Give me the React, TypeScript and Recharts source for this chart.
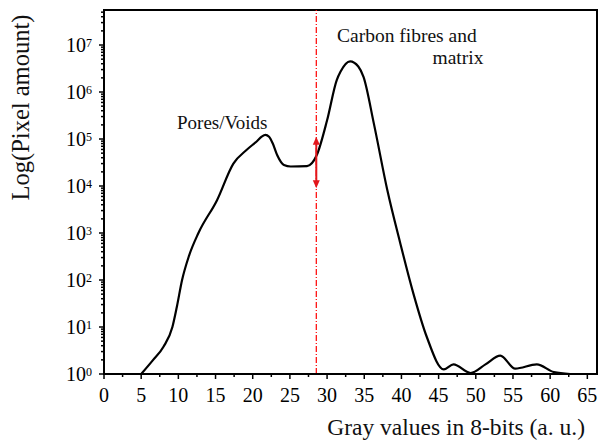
import { Line, LineChart, ReferenceArea, ReferenceLine, XAxis, YAxis } from "recharts";

// histogram (gray value -> pixel count)
const grayValues = [
  5, 6.5, 8, 9.2, 9.8, 10.5, 11.4, 12.7, 15.2, 17.4, 19.2, 20.6, 21.2, 21.7,
  22.2, 22.7, 23.3, 24.2, 25.1, 27.3, 28.6, 30.0, 31.3, 31.8, 33.1, 34.2, 34.9,
  36.3, 38.1, 39.85, 41.6, 43.4, 45.7, 47.0, 49.3, 51.3, 53.3, 55.3, 58.2,
  60.5, 62.7,
];
const pixelCounts = [
  1, 1.9, 3.8, 10, 27, 100, 316, 1000, 5000, 30000, 59000, 91000, 112000,
  123000, 112000, 80000, 45000, 28000, 26000, 26500, 45000, 250000, 1.8e6,
  2.7e6, 4.5e6, 3.5e6, 2.1e6, 2.1e5, 8200, 600, 52, 6.2, 1.25, 1.6, 1.05, 1.6,
  2.45, 1.3, 1.6, 1.1, 1.0,
];

const xMajorTicks = [0, 5, 10, 15, 20, 25, 30, 35, 40, 45, 50, 55, 60, 65];
const yExponents = [0, 1, 2, 3, 4, 5, 6, 7];

const thresholdGray = 28.55;
const arrowRange = [1.12e5, 9.0e3];

const X_MAX = 66.3;
const Y_MAX = 5.56e7;

const data = grayValues.map((g, i) => ({ gray: g, count: pixelCounts[i] }));
const xTicks = xMajorTicks.flatMap((t) => (t < 65 ? [t, t + 2.5] : [t]));
const yTicks = yExponents
  .flatMap((e) => [1, 2, 3, 4, 5, 6, 7, 8, 9].map((m) => m * Math.pow(10, e)))
  .filter((v) => v <= Y_MAX);

const serif = "Liberation Serif, Times New Roman, serif";

const XTick = (props: any) => {
  const { x, y, payload } = props;
  const major = payload.value % 5 === 0;
  return (
    <g>
      <line x1={x} x2={x} y1={y} y2={y + (major ? 5 : 3)} stroke="#000" strokeWidth={1.5} />
      {major && (
        <text x={x} y={y + 28} textAnchor="middle" fontSize={20} style={{ fontFamily: serif }} fill="#000">
          {payload.value}
        </text>
      )}
    </g>
  );
};

const YTick = (props: any) => {
  const { x, y, payload } = props;
  const exp = Math.log10(payload.value);
  const major = Math.abs(exp - Math.round(exp)) < 1e-9;
  return (
    <g>
      <line x1={x} x2={x - (major ? 5 : 3)} y1={y} y2={y} stroke="#000" strokeWidth={1.5} />
      {major && (
        <text x={x - 12} y={y + 7} textAnchor="end" fontSize={20} style={{ fontFamily: serif }} fill="#000">
          10
          <tspan dy={-5} fontSize={12}>
            {Math.round(exp)}
          </tspan>
        </text>
      )}
    </g>
  );
};

const ArrowShape = (props: any) => {
  const { x1, y1, y2 } = props;
  const top = Math.min(y1, y2);
  const bottom = Math.max(y1, y2);
  const red = "#e3161b";
  return (
    <g>
      <line x1={x1} x2={x1} y1={top + 6} y2={bottom - 6} stroke={red} strokeWidth={2} />
      <polygon points={`${x1},${top} ${x1 - 3.5},${top + 8} ${x1 + 3.5},${top + 8}`} fill={red} />
      <polygon
        points={`${x1},${bottom} ${x1 - 3.5},${bottom - 8} ${x1 + 3.5},${bottom - 8}`}
        fill={red}
      />
    </g>
  );
};

export default function App() {
  return (
    <div style={{ position: "absolute", left: 0, top: 0, width: 600, height: 442, background: "#fff" }}>
      <LineChart width={600} height={442} data={data} margin={{ top: 10, right: 3, bottom: 0, left: 0 }}>
        <XAxis
          dataKey="gray"
          type="number"
          domain={[0, X_MAX]}
          allowDataOverflow
          ticks={xTicks}
          interval={0}
          tickSize={0}
          tickMargin={0}
          tickLine={false}
          tick={<XTick />}
          axisLine={{ stroke: "#000", strokeWidth: 2 }}
          height={68}
        />
        <YAxis
          type="number"
          scale="log"
          domain={[1, Y_MAX]}
          allowDataOverflow
          ticks={yTicks}
          interval={0}
          tickSize={0}
          tickMargin={0}
          tickLine={false}
          tick={<YTick />}
          axisLine={{ stroke: "#000", strokeWidth: 2 }}
          width={104}
        />
        <ReferenceArea x1={0} x2={X_MAX} y1={1} y2={Y_MAX} fill="none" stroke="#000" strokeWidth={2} />
        <ReferenceLine x={thresholdGray} stroke="#ff0000" strokeWidth={1.2} strokeDasharray="6 2 1 2" />
        <Line
          type="monotone"
          dataKey="count"
          stroke="#000"
          strokeWidth={2.2}
          dot={false}
          isAnimationActive={false}
        />
        <ReferenceLine
          segment={[
            { x: thresholdGray, y: arrowRange[0] },
            { x: thresholdGray, y: arrowRange[1] },
          ]}
          shape={<ArrowShape />}
        />
      </LineChart>
      <svg
        width={600}
        height={442}
        style={{ position: "absolute", left: 0, top: 0, pointerEvents: "none", fontFamily: serif }}
        fill="#111"
      >
        <text x={177} y={129} fontSize={19}>
          Pores/Voids
        </text>
        <text x={337} y={41.5} fontSize={19.5}>
          Carbon fibres and
        </text>
        <text x={432.5} y={64} fontSize={19.5}>
          matrix
        </text>
        <text x={585} y={435} textAnchor="end" fontSize={23.5}>
          Gray values in 8-bits (a. u.)
        </text>
        <text x={29} y={107.5} textAnchor="middle" fontSize={24.5} transform="rotate(-90 29 107.5)">
          Log(Pixel amount)
        </text>
      </svg>
    </div>
  );
}
